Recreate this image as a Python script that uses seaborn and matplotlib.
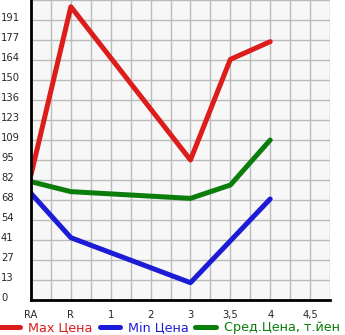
import numpy as np
import pandas as pd
import matplotlib
matplotlib.use("Agg")
import matplotlib.pyplot as plt
import matplotlib.transforms as mtransforms
from matplotlib.lines import Line2D
import seaborn as sns

categories = ["RA", "R", "1", "2", "3", "3,5", "4", "4,5"]
max_price = [85.3, 200.0, np.nan, np.nan, 95.5, 164.1, 176.2, np.nan]
min_price = [72.7, 42.5, np.nan, np.nan, 11.8, 40.3, 68.9, np.nan]
avg_price = [80.7, 73.9, np.nan, np.nan, 69.3, 78.4, 109.1, np.nan]
series_names = ["Max Цена", "Min Цена", "Сред.Цена, т.йен"]
y_tick_labels = ["0", "13", "27", "41", "54", "68", "82", "95", "109", "123",
                 "136", "150", "164", "177", "191"]
y_top = 204.6

colors = ["#dd1c1c", "#1c1cd6", "#0b7d0b"]

rows = []
for name, vals in zip(series_names, [max_price, min_price, avg_price]):
    for i, v in enumerate(vals):
        rows.append({"x": i, "price": v, "series": name})
df = pd.DataFrame(rows).dropna()

sns.set_style("white")
plt.rcParams['font.family'] = ['DejaVu Sans']

fig = plt.figure(figsize=(3.45, 3.35), dpi=100)
ax = fig.add_axes([31/345, 35/335, 299/345, 300/335])
ax.set_facecolor("#f7f7f7")

sns.lineplot(data=df, x="x", y="price", hue="series", palette=colors,
             hue_order=series_names, linewidth=3.6, ax=ax, legend=False,
             solid_capstyle="round", solid_joinstyle="round",
             estimator=None, sort=True)

ax.set_xlim(0, 7.5)
ax.set_ylim(0, y_top)

step = y_top / 15
ax.set_yticks(np.arange(15) * step)
ax.set_yticklabels(y_tick_labels)
ax.set_xticks(np.arange(len(categories)))
ax.set_xticklabels(categories)
ax.set_xticks(np.arange(0, 7.6, 0.5), minor=True)
ax.set_yticks(np.arange(16) * step, minor=True)

ax.grid(True, which="both", color="#bbbbbb", linewidth=1)
ax.set_axisbelow(True)
ax.tick_params(axis="y", which="both", length=3, width=1, color="#bbbbbb",
               labelsize=7.2, pad=18.6)
ax.tick_params(axis="x", which="both", length=3, width=1, color="#000000",
               labelsize=7.2, pad=4, direction="out")
for lab in ax.get_yticklabels():
    lab.set_horizontalalignment("left")
    lab.set_transform(lab.get_transform() + mtransforms.ScaledTranslation(0, 3/100, fig.dpi_scale_trans))

ax.set_xlabel("")
ax.set_ylabel("")
for side in ["top", "right"]:
    ax.spines[side].set_visible(False)
ax.spines["left"].set_color("black")
ax.spines["left"].set_linewidth(2)
ax.spines["bottom"].set_color("black")
ax.spines["bottom"].set_linewidth(2)

handles = [Line2D([0], [0], color=c, linewidth=3.6, solid_capstyle="round") for c in colors]
leg = fig.legend(handles, series_names, loc="center left",
                 bbox_to_anchor=(0.0, 7/335), ncol=3, frameon=False,
                 fontsize=9.2, handlelength=1.6, handletextpad=0.6,
                 columnspacing=0.55, borderaxespad=0, borderpad=0)
for t, c in zip(leg.get_texts(), colors):
    t.set_color(c)

fig.savefig("out.png", dpi=100, facecolor="white")
